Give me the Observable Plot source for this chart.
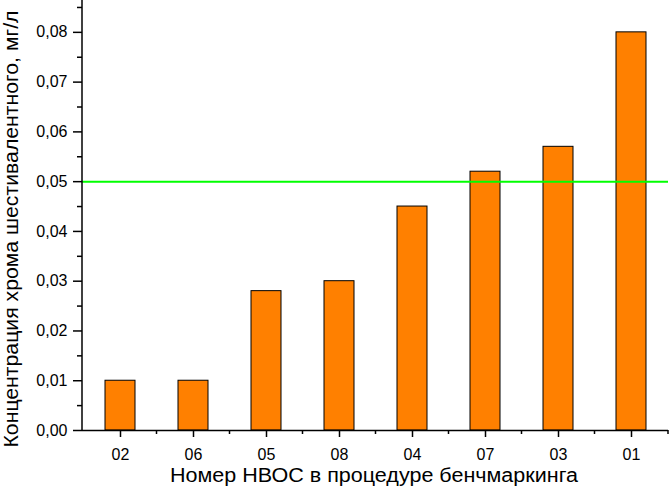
<!DOCTYPE html>
<html><head><meta charset="utf-8">
<script src="https://cdn.jsdelivr.net/npm/d3@7"></script>
<script src="https://cdn.jsdelivr.net/npm/@observablehq/plot@0.6"></script>
<style>body{margin:0;background:#fff} svg{display:block}</style>
</head><body><div id="chart"></div>
<script>
const categories = ["02", "06", "05", "08", "04", "07", "03", "01"];
const values = [0.010, 0.010, 0.028, 0.030, 0.045, 0.052, 0.057, 0.080];
const threshold = [0.05];
const yMajorTicks = [0, 0.01, 0.02, 0.03, 0.04, 0.05, 0.06, 0.07, 0.08];
const yMinorTicks = [0.005, 0.015, 0.025, 0.035, 0.045, 0.055, 0.065, 0.075, 0.085];
const yLabel = "Концентрация хрома шестивалентного, мг/л";
const xLabel = "Номер НВОС в процедуре бенчмаркинга";

const data = categories.map((c, i) => ({c, v: values[i]}));
const fmt = d => d.toFixed(2).replace(".", ",");
const font = "'Liberation Sans', Arial, sans-serif";

const chart = Plot.plot({
  width: 671, height: 499,
  marginLeft: 82, marginRight: 3, marginTop: 0, marginBottom: 69,
  style: {fontFamily: font, fontSize: "16px", background: "#fff", color: "#000"},
  x: {domain: categories, paddingInner: 0.59, paddingOuter: 0.295, axis: null},
  y: {domain: [0, 0.0864], axis: null},
  marks: [
    Plot.barY(data, {x: "c", y: "v", fill: "#ff8000", stroke: "#000", strokeWidth: 1}),
    Plot.ruleY(threshold, {stroke: "#00ff00", strokeWidth: 2}),
    Plot.axisY({ticks: yMajorTicks, tickFormat: fmt, tickSize: 9, tickPadding: 6, strokeWidth: 1.5, fontSize: 16, label: null}),
    Plot.axisY({ticks: yMinorTicks, tickFormat: () => "", tickSize: 5, strokeWidth: 1.5, label: null}),
    Plot.axisX({tickSize: 7, tickPadding: 11, strokeWidth: 1.5, fontSize: 16, label: null}),
    Plot.ruleY([0], {stroke: "#000", strokeWidth: 1.5})
  ]
});

const svg = d3.select(chart);
const xs = chart.scale("x");
const ys = chart.scale("y");
const [x0, x1] = xs.range;
const [yb, yt] = ys.range;
// left axis line
svg.append("line").attr("x1", x0).attr("x2", x0).attr("y1", yb).attr("y2", yt)
  .attr("stroke", "#000").attr("stroke-width", 1.5);
// minor x ticks at category boundaries
const gap = xs.step - xs.bandwidth;
const bounds = categories.slice(1).map(c => xs.apply(c) - gap / 2).concat([x1]);
svg.append("g").selectAll("line").data(bounds).join("line")
  .attr("x1", d => d).attr("x2", d => d).attr("y1", yb).attr("y2", yb + 4)
  .attr("stroke", "#000").attr("stroke-width", 1.5);
// axis titles
svg.append("text").text(xLabel)
  .attr("x", 374).attr("y", 482)
  .attr("text-anchor", "middle").attr("font-family", font).attr("font-size", 20)
  .attr("textLength", 408).attr("lengthAdjust", "spacingAndGlyphs").attr("fill", "#000");
svg.append("text").text(yLabel)
  .attr("transform", `translate(18,229) rotate(-90)`)
  .attr("text-anchor", "middle").attr("font-family", font).attr("font-size", 20)
  .attr("textLength", 437).attr("lengthAdjust", "spacingAndGlyphs").attr("fill", "#000");

document.getElementById("chart").appendChild(chart);
</script>
</body></html>
